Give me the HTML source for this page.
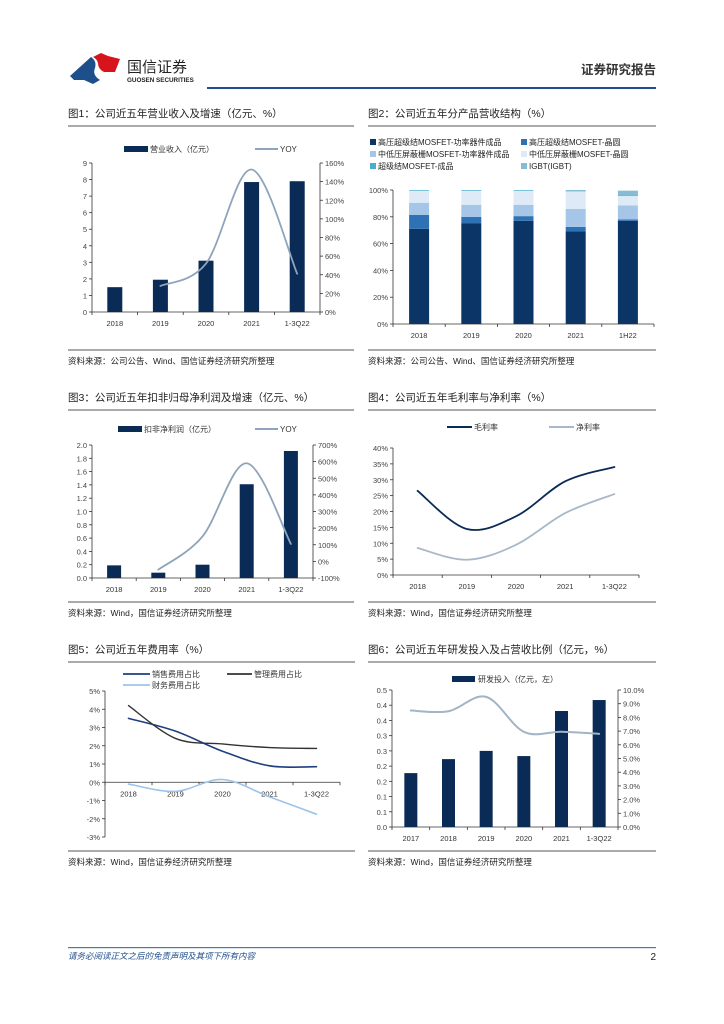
<!DOCTYPE html>
<html><head><meta charset="utf-8">
<style>
html,body{margin:0;padding:0;background:#fff;}
svg{display:block;font-family:"Liberation Sans","Noto Sans CJK SC",sans-serif;}
</style></head>
<body>
<svg id="pg" width="724" height="1024" viewBox="0 0 724 1024" xmlns="http://www.w3.org/2000/svg">
<g>
  <path d="M70 76 L91 57 Q97 61 95 68 Q92 75 100 80 L93 84 L84 80 L74 80 Z" fill="#1d4f8a"/>
  <path d="M93 57 L101 53 L108 56 L120 59 L115 72 L104 72 Q98 69 98 63 Q97 59 93 57 Z" fill="#d7141c"/>
  <text x="127" y="72" font-size="15" fill="#222">国信证券</text>
  <text x="127" y="82" font-size="6.3" font-weight="bold" fill="#222">GUOSEN SECURITIES</text>
  <rect x="207" y="87" width="449" height="2" fill="#1f4e8c"/>
  <text x="656" y="74" font-size="12.5" font-weight="bold" fill="#333" text-anchor="end">证券研究报告</text>
</g>
<g id="charts"></g>
<g>
  <rect x="68" y="947" width="588" height="1.2" fill="#4a7aa8"/>
  <text x="68" y="959" font-size="8.5" font-style="italic" fill="#1f4e8c">请务必阅读正文之后的免责声明及其项下所有内容</text>
  <text x="656" y="960" font-size="10" fill="#222" text-anchor="end">2</text>
</g>
</svg>
<script>
// ---------- data ----------
const cats1 = ["2018","2019","2020","2021","1-3Q22"];
const rev1 = [1.5,1.95,3.1,7.85,7.9];
const yoy1 = [null,28,52,153,41];
const leftTicks1 = ["0","1","2","3","4","5","6","7","8","9"];
const rightTicks1 = ["0%","20%","40%","60%","80%","100%","120%","140%","160%"];

const cats2 = ["2018","2019","2020","2021","1H22"];
const s2a = [71,75,77,69,77];
const s2b = [10.5,5,3.5,3.5,1];
const s2c = [9,9,8.5,13.5,10.5];
const s2d = [9,10.5,10.5,13,7];
const s2e = [0.5,0.5,0.5,0.5,0.5];
const s2f = [0,0,0,0.5,3.5];
const names2 = ["高压超级结MOSFET-功率器件成品","高压超级结MOSFET-晶圆","中低压屏蔽栅MOSFET-功率器件成品","中低压屏蔽栅MOSFET-晶圆","超级结MOSFET-成品","IGBT(IGBT)"];
const ticks2 = ["0%","20%","40%","60%","80%","100%"];

const cats3 = ["2018","2019","2020","2021","1-3Q22"];
const np3 = [0.19,0.08,0.2,1.41,1.91];
const yoy3 = [null,-50,150,590,105];
const leftTicks3 = ["0.0","0.2","0.4","0.6","0.8","1.0","1.2","1.4","1.6","1.8","2.0"];
const rightTicks3 = ["-100%","0%","100%","200%","300%","400%","500%","600%","700%"];

const cats4 = ["2018","2019","2020","2021","1-3Q22"];
const gross4 = [26.5,14.5,18.5,29.5,34];
const net4 = [8.5,4.8,9.5,19.5,25.5];
const ticks4 = ["0%","5%","10%","15%","20%","25%","30%","35%","40%"];

const cats5 = ["2018","2019","2020","2021","1-3Q22"];
const sales5 = [3.5,2.8,1.7,0.9,0.85];
const mgmt5 = [4.2,2.4,2.1,1.9,1.85];
const fin5 = [-0.1,-0.5,0.15,-0.8,-1.75];
const ticks5 = ["-3%","-2%","-1%","0%","1%","2%","3%","4%","5%"];

const cats6 = ["2017","2018","2019","2020","2021","1-3Q22"];
const rd6 = [0.177,0.223,0.25,0.233,0.381,0.417];
const ratio6 = [8.5,8.45,9.5,6.95,6.95,6.8];
const leftTicks6 = ["0.0","0.1","0.1","0.2","0.2","0.3","0.3","0.4","0.4","0.5"];
const rightTicks6 = ["0.0%","1.0%","2.0%","3.0%","4.0%","5.0%","6.0%","7.0%","8.0%","9.0%","10.0%"];

// ---------- helpers ----------
const NS="http://www.w3.org/2000/svg";
const root=document.getElementById('charts');
function el(tag,attrs,parent,txt){const e=document.createElementNS(NS,tag);for(const k in attrs)e.setAttribute(k,attrs[k]);if(txt!==undefined)e.textContent=txt;(parent||root).appendChild(e);return e;}
function lin(d0,d1,r0,r1){return v=>r0+(v-d0)/(d1-d0)*(r1-r0);}
function smooth(pts){let d="M"+pts[0][0]+" "+pts[0][1];for(let i=0;i<pts.length-1;i++){const p0=pts[i-1]||pts[i],p1=pts[i],p2=pts[i+1],p3=pts[i+2]||p2;const c1x=p1[0]+(p2[0]-p0[0])/6,c1y=p1[1]+(p2[1]-p0[1])/6,c2x=p2[0]-(p3[0]-p1[0])/6,c2y=p2[1]-(p3[1]-p1[1])/6;d+=" C"+c1x+" "+c1y+" "+c2x+" "+c2y+" "+p2[0]+" "+p2[1];}return d;}
function group(name){const g=el('g',{});return g;}
function txt(g,x,y,s,size,anchor,name,color){const t=el('text',{x:x,y:y,'font-size':size,'text-anchor':anchor||'start',fill:color||'#333'},g,s);return t;}
function line(g,x1,y1,x2,y2,stroke,w,name){const l=el('line',{x1:x1,y1:y1,x2:x2,y2:y2,stroke:stroke,'stroke-width':w},g);return l;}
function rect(g,x,y,w,h,fill,name){const r=el('rect',{x:x,y:y,width:w,height:Math.max(0,h),fill:fill},g);return r;}
function path(g,d,stroke,w,name){const p=el('path',{d:d,stroke:stroke,'stroke-width':w,fill:'none','stroke-linecap':'round'},g);return p;}
function frame(g,x0,x1,titleY,title,srcY,src){
  txt(g,x0,titleY,title,10.5,'start','chart-title','#222');
  line(g,x0,titleY+9,x1,titleY+9,'#555',1,'title-rule');
  line(g,x0,srcY-11,x1,srcY-11,'#555',1,'source-rule');
  txt(g,x0,srcY+3,src,8.5,'start','source-note','#222');
}
function yAxis(g,x,yt,yb,labels,side,name){
  line(g,x,yt,x,yb,'#333',0.8,name);
  const n=labels.length-1;
  labels.forEach((s,i)=>{const y=yb-(yb-yt)*i/n;line(g,x,y,side==='l'?x-3:x+3,y,'#333',0.8,name+'-tick');txt(g,side==='l'?x-5:x+5,y+3,s,7.5,side==='l'?'end':'start',name+'-label','#444');});
}
function xAxis(g,x0,x1,y,cats,labelY,name){
  line(g,x0,y,x1,y,'#333',0.8,name);
  const w=(x1-x0)/cats.length;
  for(let i=0;i<=cats.length;i++)line(g,x0+w*i,y,x0+w*i,y+3,'#333',0.8,name+'-tick');
  cats.forEach((c,i)=>txt(g,x0+w*(i+0.5),labelY,c,7.5,'middle',name+'-label','#333'));
  return i=>x0+w*(i+0.5);
}
const NAVY="#0b2b57", GREYBLUE="#8ea4ba";

// ---------- chart 1 ----------
(function(){
  const g=group('chart-revenue');
  frame(g,68,354,117,"图1：公司近五年营业收入及增速（亿元、%）",361,"资料来源：公司公告、Wind、国信证券经济研究所整理");
  rect(g,124,146,24,6,NAVY,'legend-revenue-swatch');txt(g,150,152,"营业收入（亿元）",8,'start','legend-revenue');
  line(g,255,149,278,149,GREYBLUE,2,'legend-yoy-swatch');txt(g,280,152,"YOY",8,'start','legend-yoy');
  const yL=lin(0,9,312,163), yR=lin(0,160,312,163);
  yAxis(g,92,163,312,leftTicks1,'l','left-axis');yAxis(g,320,163,312,rightTicks1,'r','right-axis');
  const xc=xAxis(g,92,320,312,cats1,326,'x-axis');
  rev1.forEach((v,i)=>rect(g,xc(i)-7.5,yL(v),15,312-yL(v),NAVY,'bar-revenue-'+cats1[i]));
  const pts=[];yoy1.forEach((v,i)=>{if(v!==null)pts.push([xc(i),yR(v)]);});
  path(g,smooth(pts),GREYBLUE,1.8,'line-yoy');
})();

// ---------- chart 2 ----------
(function(){
  const g=group('chart-product-mix');
  frame(g,368,656,117,"图2：公司近五年分产品营收结构（%）",361,"资料来源：公司公告、Wind、国信证券经济研究所整理");
  const cols=["#0b3566","#2e72b5","#a5c6e6","#deebf7","#47aed0","#86bcd4"];
  const series=[s2a,s2b,s2c,s2d,s2e,s2f];
  names2.forEach((n,i)=>{const x=i%2?521:370,y=139+Math.floor(i/2)*12;rect(g,x,y,6,6,cols[i],'legend-swatch-'+i);txt(g,x+8,y+6,n,8,'start','legend-label-'+i,'#222');});
  const y=lin(0,100,324,190);
  yAxis(g,393,190,324,ticks2,'l','left-axis');
  const xc=xAxis(g,393,654,324,cats2,338,'x-axis');
  cats2.forEach((c,i)=>{let acc=0;series.forEach((s,k)=>{const v=s[i];rect(g,xc(i)-10,y(acc+v),20,y(acc)-y(acc+v),cols[k],'bar-'+c+'-s'+k);acc+=v;});});
})();

// ---------- chart 3 ----------
(function(){
  const g=group('chart-net-profit');
  frame(g,68,354,401,"图3：公司近五年扣非归母净利润及增速（亿元、%）",613,"资料来源：Wind，国信证券经济研究所整理");
  rect(g,118,426,24,6,NAVY,'legend-profit-swatch');txt(g,144,432,"扣非净利润（亿元）",8,'start','legend-profit');
  line(g,255,429,278,429,GREYBLUE,2,'legend-yoy-swatch');txt(g,280,432,"YOY",8,'start','legend-yoy');
  const yL=lin(0,2,578,445), yR=lin(-100,700,578,445);
  yAxis(g,92,445,578,leftTicks3,'l','left-axis');yAxis(g,313,445,578,rightTicks3,'r','right-axis');
  const xc=xAxis(g,92,313,578,cats3,592,'x-axis');
  np3.forEach((v,i)=>rect(g,xc(i)-7,yL(v),14,578-yL(v),NAVY,'bar-profit-'+cats3[i]));
  const pts=[];yoy3.forEach((v,i)=>{if(v!==null)pts.push([xc(i),yR(v)]);});
  path(g,smooth(pts),GREYBLUE,1.8,'line-yoy');
})();

// ---------- chart 4 ----------
(function(){
  const g=group('chart-margins');
  frame(g,368,656,401,"图4：公司近五年毛利率与净利率（%）",613,"资料来源：Wind，国信证券经济研究所整理");
  line(g,447,427,472,427,NAVY,2,'legend-gross-swatch');txt(g,474,430,"毛利率",8,'start','legend-gross');
  line(g,549,427,574,427,"#a9b8c8",2,'legend-net-swatch');txt(g,576,430,"净利率",8,'start','legend-net');
  const y=lin(0,40,575,448);
  yAxis(g,393,448,575,ticks4,'l','left-axis');
  const xc=xAxis(g,393,639,575,cats4,589,'x-axis');
  path(g,smooth(gross4.map((v,i)=>[xc(i),y(v)])),NAVY,1.8,'line-gross-margin');
  path(g,smooth(net4.map((v,i)=>[xc(i),y(v)])),"#a9b8c8",1.8,'line-net-margin');
})();

// ---------- chart 5 ----------
(function(){
  const g=group('chart-expense-ratio');
  frame(g,68,355,653,"图5：公司近五年费用率（%）",862,"资料来源：Wind，国信证券经济研究所整理");
  line(g,123,674,150,674,"#1f3f80",1.8,'legend-sales-swatch');txt(g,152,677,"销售费用占比",8,'start','legend-sales');
  line(g,227,674,252,674,"#333",1.8,'legend-mgmt-swatch');txt(g,254,677,"管理费用占比",8,'start','legend-mgmt');
  line(g,123,685,150,685,"#9cc4ea",1.8,'legend-fin-swatch');txt(g,152,688,"财务费用占比",8,'start','legend-fin');
  const y=lin(-3,5,837,691);
  yAxis(g,105,691,837,ticks5,'l','left-axis');
  const y0=y(0);
  const xc=xAxis(g,105,340,y0,cats5,y0+14,'x-axis');
  path(g,smooth(sales5.map((v,i)=>[xc(i),y(v)])),"#1f3f80",1.6,'line-sales-ratio');
  path(g,smooth(mgmt5.map((v,i)=>[xc(i),y(v)])),"#333",1.4,'line-mgmt-ratio');
  path(g,smooth(fin5.map((v,i)=>[xc(i),y(v)])),"#9cc4ea",1.6,'line-fin-ratio');
})();

// ---------- chart 6 ----------
(function(){
  const g=group('chart-rd');
  frame(g,368,656,653,"图6：公司近五年研发投入及占营收比例（亿元，%）",862,"资料来源：Wind，国信证券经济研究所整理");
  rect(g,452,676,23,6,NAVY,'legend-rd-swatch');txt(g,478,682,"研发投入（亿元，左）",8,'start','legend-rd');
  const yL=lin(0,0.45,827,690), yR=lin(0,10,827,690);
  yAxis(g,392,690,827,leftTicks6,'l','left-axis');yAxis(g,618,690,827,rightTicks6,'r','right-axis');
  const xc=xAxis(g,392,618,827,cats6,841,'x-axis');
  rd6.forEach((v,i)=>rect(g,xc(i)-6.5,yL(v),13,827-yL(v),NAVY,'bar-rd-'+cats6[i]));
  path(g,smooth(ratio6.map((v,i)=>[xc(i),yR(v)])),"#a2b4c6",2,'line-rd-ratio');
})();
</script>
</body></html>
